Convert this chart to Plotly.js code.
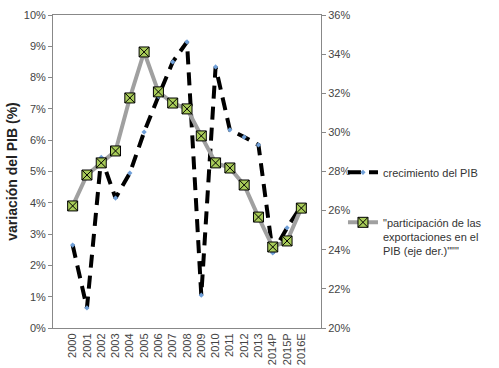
<!DOCTYPE html>
<html>
<head>
<meta charset="utf-8">
<script src="https://cdn.plot.ly/plotly-3.0.1.min.js"></script>
<style>html,body{margin:0;padding:0;background:#fff}#chart{width:499px;height:368px}</style>
</head>
<body>
<div id="chart"></div>
<script>
const years = ["2000","2001","2002","2003","2004","2005","2006","2007","2008","2009","2010","2011","2012","2013","2014P","2015P","2016E"];
const crecimientoPIB = [2.65, 0.64, 5.45, 4.15, 4.95, 6.26, 7.4, 8.5, 9.14, 1.05, 8.34, 6.33, 6.1, 5.85, 2.4, 3.2, 3.9];
const participacionExport = [26.24, 27.82, 28.44, 29.05, 31.76, 34.11, 32.07, 31.5, 31.2, 29.82, 28.44, 28.18, 27.31, 25.67, 24.14, 24.45, 26.13];
const nameCrec = "crecimiento del PIB";
const nameExp = "\"participación de las<br>exportaciones en el<br>PIB (eje der.)\"\"\"";

const font = "Liberation Sans, Arial, sans-serif";

const traces = [
  {
    x: years, y: crecimientoPIB, name: nameCrec, type: "scatter", mode: "lines+markers",
    line: {color: "#000000", width: 4, dash: "13px,8px"},
    marker: {color: "#6f9fd8", size: 4, symbol: "diamond"},
    legendgroup: "a"
  },
  {
    x: years, y: participacionExport, name: nameExp, type: "scatter", mode: "lines+markers",
    yaxis: "y2",
    line: {color: "#a0a0a0", width: 4},
    marker: {color: "#a9cc5a", size: 10, symbol: "square-x", line: {color: "#000", width: 1}},
    legendgroup: "b"
  }
];

const layout = {
  width: 499, height: 368,
  margin: {l: 53, r: 165, t: 15, b: 40},
  paper_bgcolor: "#fff", plot_bgcolor: "#fff",
  font: {family: font, size: 11, color: "#444"},
  showlegend: true,
  legend: {
    x: 1.082, xanchor: "left", y: 0.541, yanchor: "top",
    font: {family: font, size: 11, color: "#333"},
    traceorder: "grouped", tracegroupgap: 31, valign: "top",
    bgcolor: "rgba(0,0,0,0)"
  },
  xaxis: {
    type: "category", tickangle: -90, showgrid: false, zeroline: false,
    showline: true, linecolor: "#888", linewidth: 1, mirror: true,
    tickfont: {family: font, size: 11, color: "#444"}, ticks: ""
  },
  yaxis: {
    range: [0, 10], dtick: 1, ticksuffix: "%", showgrid: false, zeroline: false,
    showline: true, linecolor: "#888", linewidth: 1, ticks: "outside", ticklen: 4, tickcolor: "#888",
    tickfont: {family: font, size: 11, color: "#444"},
    title: {text: "variación del PIB (%)", font: {family: font, size: 14, color: "#222", weight: "bold"}, standoff: 2}
  },
  yaxis2: {
    overlaying: "y", side: "right", range: [20, 36], dtick: 2, ticksuffix: "%",
    showgrid: false, zeroline: false, showline: true, linecolor: "#888", linewidth: 1,
    ticks: "outside", ticklen: 4, tickcolor: "#888",
    tickfont: {family: font, size: 11, color: "#444"}
  }
};

Plotly.newPlot("chart", traces, layout, {displayModeBar: false, staticPlot: true});
</script>
</body>
</html>
